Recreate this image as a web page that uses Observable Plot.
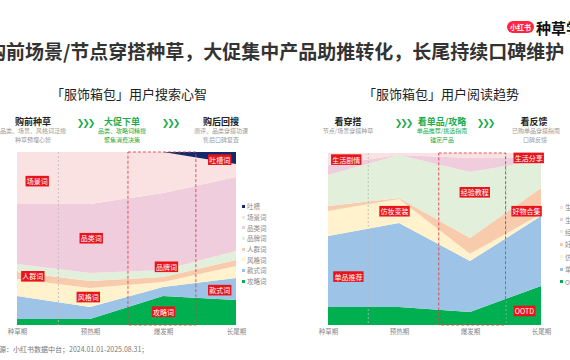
<!DOCTYPE html>
<html><head><meta charset="utf-8">
<script src="https://cdn.jsdelivr.net/npm/d3@7"></script>
<script src="https://cdn.jsdelivr.net/npm/@observablehq/plot@0.6"></script>
<style>
body{margin:0;width:570px;height:360px;overflow:hidden;position:relative;background:#fff;font-family:"Noto Sans CJK SC","Noto Sans",sans-serif;}
.t{position:absolute;white-space:nowrap;line-height:1;transform:translate(-50%,-50%);}
.l{position:absolute;white-space:nowrap;line-height:1;transform:translateY(-50%);}
.plot{position:absolute;}
.leg{position:absolute;font-size:6.5px;color:#888;white-space:nowrap;}
.leg div{height:10.7px;display:flex;align-items:center;}
.leg span{display:inline-block;width:3px;height:3px;margin-right:2px;}
</style></head><body>
<script>
// ---------- data ----------
const stages = ["种草期", "预热期", "爆发期", "长尾期"];

// 「服饰箱包」用户搜索心智 (share %, bottom -> top)
const searchSeries = ["攻略词", "款式词", "风格词", "人群词", "品牌词", "品类词", "场景词", "吐槽"];
const searchColors = ["#00b050", "#9dc3e6", "#fff2cc", "#f8cbad", "#e2efda", "#f0cddc", "#fbe2e2", "#13296b"];
const searchGuide = [3.5, 3.5, 16.8, 14.5];    // 攻略词
const searchStyle = [13.3, 6.9, 5.2, 12.7];    // 款式词
const searchVibe = [9.8, 11.0, 2.9, 6.9];      // 风格词
const searchCrowd = [4.0, 4.0, 2.9, 3.5];      // 人群词
const searchBrand = [4.6, 4.6, 4.0, 5.2];      // 品牌词
const searchCategory = [34.7, 39.9, 44.5, 42.8]; // 品类词
const searchScene = [30.1, 30.1, 23.7, 7.5];   // 场景词
const searchComplaint = [0, 0, 0, 6.9];        // 吐槽
const searchValues = [searchGuide, searchStyle, searchVibe, searchCrowd, searchBrand, searchCategory, searchScene, searchComplaint];
const searchLegend = ["吐槽", "场景词", "品类词", "品牌词", "人群词", "风格词", "款式词", "攻略词"];
const searchLabels = ["场景词", "品类词", "人群词", "风格词", "品牌词", "攻略词", "款式词", "吐槽词"];
const searchLabelX = [0.27, 1.01, 0.21, 0.97, 2.04, 2.0, 2.77, 2.77];
const searchLabelY = [0.83, 0.50, 0.28, 0.16, 0.335, 0.075, 0.20, 0.954];
const searchHighlight = [1.52, 2.45];
const searchDivider = [0.56];

// 「服饰箱包」用户阅读趋势 (share %, bottom -> top)
const readSeries = ["OOTD", "单品推荐", "仿妆变装", "好物合集", "经验教程", "生活分享", "生活剧情"];
const readColors = ["#00b050", "#9dc3e6", "#fff2cc", "#f8cbad", "#e2efda", "#f0cddc", "#fbe2e2"];
const readOOTD = [10.5, 10.5, 7.6, 22.7];
const readSingle = [41.3, 48.8, 29.7, 40.7];
const readMakeup = [14.5, 14.0, 4.1, 1.2];
const readHaul = [2.9, 0.6, 9.3, 15.1];
const readTutorial = [18.0, 25.0, 38.4, 16.3];
const readShare = [5.8, 0, 8.1, 1.2];
const readDrama = [7.0, 1.2, 2.9, 2.9];
const readValues = [readOOTD, readSingle, readMakeup, readHaul, readTutorial, readShare, readDrama];
const readLegend = ["生活剧情", "生活分享", "经验教程", "好物合集", "仿妆变装", "单品推荐", "OOTD"];
const readLabels = ["生活剧情", "生活分享", "经验教程", "仿妆变装", "好物合集", "单品推荐", "OOTD"];
const readLabelX = [0.25, 2.82, 2.06, 0.93, 2.79, 0.28, 2.76];
const readLabelY = [0.96, 0.97, 0.77, 0.66, 0.66, 0.28, 0.08];
const readHighlight = [1.56, 2.5];
const readDivider = [0.56, 2.5];

// ---------- helpers ----------
const GREEN = "#1aab4c", RED = "#e8141c";
function txt(s, x, y, css, cls = "t") {
  const d = document.createElement("div");
  d.className = cls; d.textContent = s;
  d.style.left = x + "px"; d.style.top = y + "px";
  d.style.cssText += css;
  document.body.appendChild(d);
  return d;
}
function rows(series, values) {
  const out = [];
  series.forEach((s, k) => values[k].forEach((v, i) => out.push({s, i, v})));
  return out;
}
function labelRows(names, xs, ys) { return names.map((n, k) => ({n, x: xs[k], y: ys[k]})); }

function chart(series, colors, values, labels, highlight, dividers, opts) {
  const svg = Plot.plot({
    width: opts.width, height: 200,
    marginLeft: opts.ml, marginRight: opts.mr, marginTop: opts.mt, marginBottom: 200 - opts.mt - opts.h,
    style: {fontSize: "6.5px", fontFamily: '"Noto Sans CJK SC",sans-serif', color: "#888", background: "transparent", overflow: "visible"},
    x: {domain: [0, 3]},
    y: {domain: [0, 1], axis: null},
    color: {domain: series, range: colors},
    marks: [
      Plot.areaY(rows(series, values), {x: "i", y: "v", fill: "s", z: "s", offset: "normalize", curve: "linear"}),
      Plot.ruleX(dividers, {stroke: "#b9b9b9", strokeWidth: 0.8, strokeDasharray: "2,2"}),
      Plot.rect([highlight], {x1: d => d[0], x2: d => d[1], y1: 0, y2: 1, fill: "none", stroke: "#e0404a", strokeWidth: 0.9, strokeDasharray: "3,2"}),
      Plot.axisX({ticks: [0, 1, 2, 3], tickFormat: i => stages[i], tickSize: 0, tickPadding: 4, fontSize: 6.5, fill: "#888"}),
      Plot.text(labels, {x: "x", y: "y", text: "n", fill: "white", fontSize: 7, textAnchor: "middle", lineAnchor: "middle"})
    ]
  });
  svg.classList.add("plot");
  svg.style.left = opts.left + "px"; svg.style.top = opts.top + "px";
  document.body.appendChild(svg);
  svg.querySelectorAll('g[aria-label="text"] text').forEach(t => {
    const b = t.getBBox();
    const r = document.createElementNS("http://www.w3.org/2000/svg", "rect");
    r.setAttribute("x", b.x - 1.2); r.setAttribute("y", b.y - 0.3);
    r.setAttribute("width", b.width + 2.4); r.setAttribute("height", b.height + 0.6);
    r.setAttribute("fill", RED);
    if (t.getAttribute("transform")) r.setAttribute("transform", t.getAttribute("transform"));
    t.parentNode.insertBefore(r, t);
  });
}
function legend(names, colorsTopDown, left, top, h) {
  const d = document.createElement("div");
  d.className = "leg"; d.style.left = left + "px"; d.style.top = top + "px";
  names.forEach((n, k) => {
    const it = document.createElement("div"); it.style.height = h + "px";
    const sq = document.createElement("span"); sq.style.background = colorsTopDown[k];
    it.appendChild(sq); it.appendChild(document.createTextNode(n));
    d.appendChild(it);
  });
  document.body.appendChild(d);
}

// ---------- header ----------
txt("小红书", 507, 21, "transform:none;background:#ff2442;color:#fff;font-size:7px;font-weight:bold;padding:2.5px 3px;border-radius:6px;", "l");
txt("种草学", 536, 27, "font-size:15px;font-weight:bold;color:#111;", "l");
txt("购前场景/节点穿搭种草，大促集中产品助推转化，长尾持续口碑维护", -13, 50, "font-size:19px;font-weight:bold;color:#333;", "l");

txt("「服饰箱包」用户搜索心智", 129, 93, "font-size:13px;color:#222;");
txt("「服饰箱包」用户阅读趋势", 441, 93, "font-size:13px;color:#222;");

const H = "font-size:9px;font-weight:bold;color:#222;", HG = "font-size:9px;font-weight:bold;color:" + GREEN + ";";
const S = "font-size:6px;color:#999;", SG = "font-size:6px;color:" + GREEN + ";";
const CH = "font-size:9px;font-weight:bold;letter-spacing:-2px;font-family:'DejaVu Sans';color:" + GREEN + ";";
txt("购前种草", 33, 121, H); txt("品类、场景、风格词泛搜", 33, 131, S); txt("种草预埋心智", 33, 140, S);
txt("❯❯❯", 85, 123, CH);
txt("大促下单", 122, 121, HG); txt("品类、攻略词精搜", 122, 131, SG); txt("聚焦消费决策", 122, 140, SG);
txt("❯❯❯", 170, 123, CH);
txt("购后回搜", 221, 121, H); txt("测评、品类穿搭功课", 221, 131, S); txt("售后口碑复查", 221, 140, S);

txt("看穿搭", 348, 121, H); txt("节点/场景穿搭种草", 348, 131, S);
txt("❯❯❯", 403, 123, CH);
txt("看单品/攻略", 442, 121, HG); txt("单品推荐/挑选指南", 442, 131, SG); txt("锚定产品", 442, 140, SG);
txt("❯❯❯", 485, 123, CH);
txt("看反馈", 534, 121, H); txt("已购单品穿搭指南", 536, 131, S); txt("口碑反馈", 535, 140, S);

// ---------- charts ----------
chart(searchSeries, searchColors, searchValues, labelRows(searchLabels, searchLabelX, searchLabelY), searchHighlight, searchDivider,
  {width: 250, left: 0, top: 140, ml: 17, mr: 14, mt: 12, h: 173});
chart(readSeries, readColors, readValues, labelRows(readLabels, readLabelX, readLabelY), readHighlight, readDivider,
  {width: 250, left: 300, top: 140, ml: 28, mr: 9, mt: 13, h: 172});

legend(searchLegend, searchColors.slice().reverse(), 242, 201, 10.7);
legend(readLegend, readColors.slice().reverse(), 560, 201, 12.4);

txt("数据来源：小红书数据中台；2024.01.01-2025.08.31；", -22, 349, "font-size:7px;color:#777;", "l");
</script>
</body></html>
